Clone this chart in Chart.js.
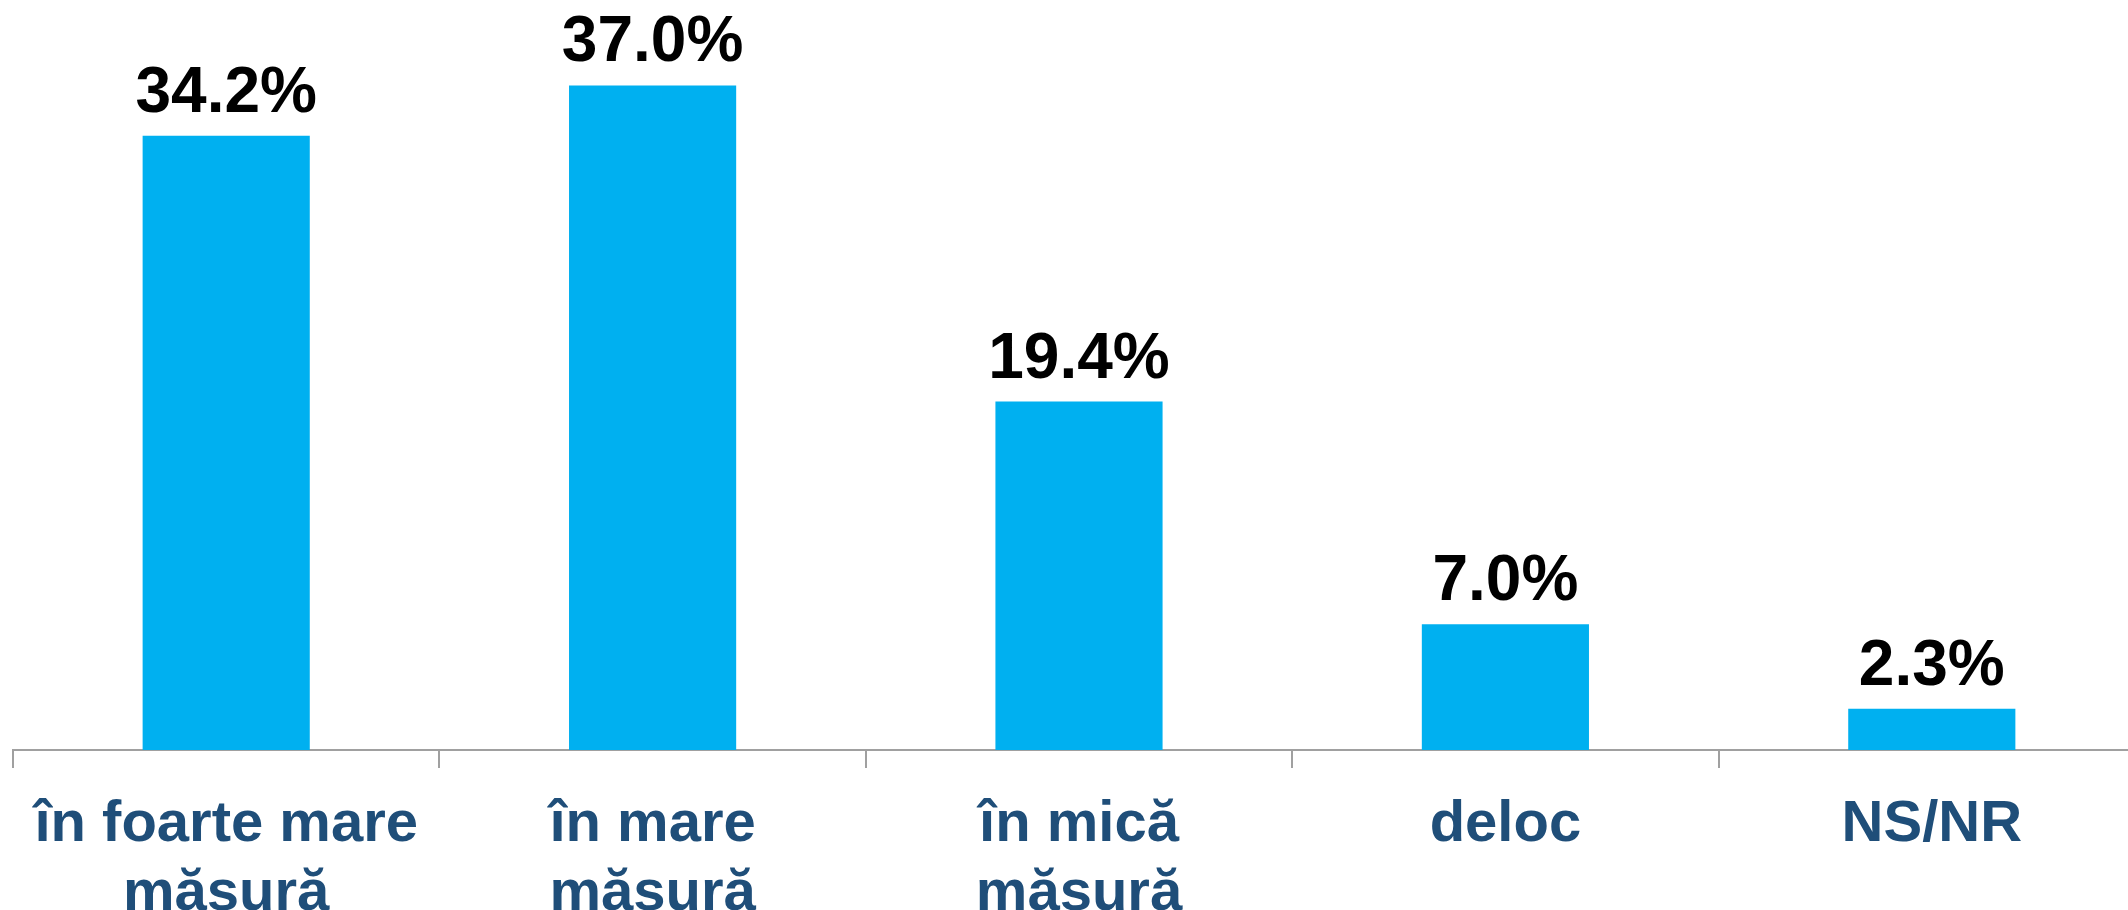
<!DOCTYPE html>
<html>
<head>
<meta charset="utf-8">
<script src="https://cdn.jsdelivr.net/npm/chart.js@4/dist/chart.umd.min.js"></script>
<style>
  body { margin:0; background:#fff; }
  #wrap { width:2128px; height:910px; overflow:hidden; position:relative; }
  #box { position:absolute; left:0; top:0; width:2146px; height:910px; }
</style>
</head>
<body>
<div id="wrap"><div id="box"><canvas id="bar-chart"></canvas></div></div>
<script>
var categories = [
  ['în foarte mare', 'măsură'],
  ['în mare', 'măsură'],
  ['în mică', 'măsură'],
  'deloc',
  'NS/NR'
];
var values = [34.2, 37.0, 19.4, 7.0, 2.3];

// value labels above bars
var valueLabels = {
  id: 'valueLabels',
  afterDatasetsDraw: function(chart){
    var ctx = chart.ctx;
    var meta = chart.getDatasetMeta(0);
    ctx.save();
    ctx.fillStyle = '#000';
    ctx.font = 'bold 64px "Liberation Sans", Arial, sans-serif';
    ctx.textAlign = 'center';
    ctx.textBaseline = 'alphabetic';
    meta.data.forEach(function(bar, i){
      ctx.fillText(values[i].toFixed(1) + '%', bar.x, bar.y - 24);
    });
    ctx.restore();
  }
};

var ctx = document.getElementById('bar-chart').getContext('2d');
new Chart(ctx, {
  type: 'bar',
  data: {
    labels: categories,
    datasets: [{
      data: values,
      backgroundColor: '#00B0F0',
      borderWidth: 0,
      categoryPercentage: 1,
      barPercentage: 0.392
    }]
  },
  options: {
    responsive: true,
    maintainAspectRatio: false,
    animation: false,
    layout: { padding: { left: 13, right: 1, top: 0, bottom: 0 } },
    plugins: {
      legend: { display: false },
      tooltip: { enabled: false },
      title: { display: false }
    },
    scales: {
      x: {
        afterFit: function(scale){ scale.height = 160; },
        grid: {
          drawOnChartArea: false,
          drawTicks: true,
          tickLength: 18,
          color: '#A0A0A0',
          lineWidth: 2
        },
        border: { display: true, color: '#A0A0A0', width: 2 },
        ticks: {
          color: '#1F4E79',
          font: { family: '"Liberation Sans", Arial, sans-serif', size: 58, weight: 'bold', lineHeight: 1.2 },
          padding: 22,
          maxRotation: 0,
          minRotation: 0,
          autoSkip: false
        }
      },
      y: {
        display: false,
        min: 0,
        max: 41.76
      }
    }
  },
  plugins: [valueLabels]
});
</script>
</body>
</html>
